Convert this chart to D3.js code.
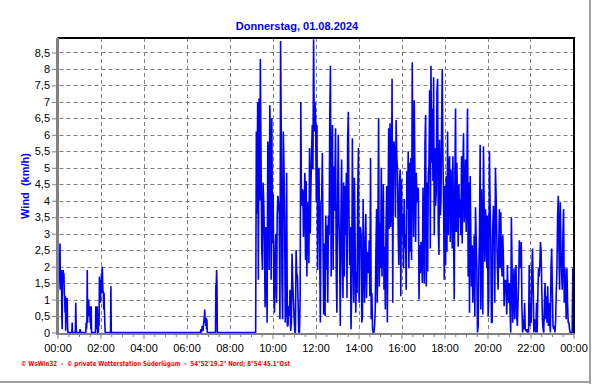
<!DOCTYPE html>
<html><head><meta charset="utf-8">
<script src="https://cdn.jsdelivr.net/npm/d3@7"></script>
<style>body{margin:0;background:#fff}svg{display:block}</style>
</head><body><svg id="c" width="592" height="384"></svg>
<script>
const chartTitle = "Donnerstag, 01.08.2024";
const yTitle = "Wind  (km/h)";
const footerText = "\u00A9 WsWin32  -  \u00A9 private Wetterstation S\u00FCderl\u00FCgum  -  54\u00B052'19.2\" Nord; 8\u00B054'45.1\"Ost";
const xTickLabels = ["00:00","02:00","04:00","06:00","08:00","10:00","12:00","14:00","16:00","18:00","20:00","22:00","00:00"];
const yTickValues = [0,0.5,1,1.5,2,2.5,3,3.5,4,4.5,5,5.5,6,6.5,7,7.5,8,8.5];
const yTickLabels = ["0","0,5","1","1,5","2","2,5","3","3,5","4","4,5","5","5,5","6","6,5","7","7,5","8","8,5"];

// quiet night / morning readings: time and wind speed
const nightTimes = ["00:00","00:01","00:02","00:03","00:04","00:05","00:06","00:07","00:08","00:09","00:10","00:11","00:12","00:13","00:14","00:15","00:16","00:17","00:18","00:19","00:20","00:21","00:22","00:23","00:24","00:25","00:26","00:27","00:28","00:29",
"00:40","00:41","00:42","00:50","00:51","00:52","00:53","01:02","01:03","01:04","01:05",
"01:19","01:20","01:21","01:22","01:23","01:24","01:25","01:26","01:27","01:28","01:29","01:30","01:31","01:32","01:33","01:34","01:35",
"01:46","01:47","01:48","01:49","01:50","01:51","01:52",
"01:54","01:55","01:56","01:57","01:58","01:59","02:00","02:01","02:02","02:03","02:04","02:05","02:06","02:07","02:08","02:09","02:10","02:11","02:12","02:13",
"02:28","02:29","02:30","02:31",
"06:39","06:40","06:42","06:44","06:46","06:48","06:50","06:51","06:52","06:53","06:54","06:55","06:56","06:57","06:58",
"07:21","07:22","07:23","07:24","07:25","07:26","09:12"];
const nightValues = [1.2,1.7,1.2,1.5,2.0,1.6,2.05,2.7,1.3,1.8,1.5,1.9,0.6,0.1,1.8,1.5,1.9,1.6,1.8,1.2,1.05,0.6,1.1,0.05,1.0,0.6,1.0,1.05,0.3,0,
0,0.3,0,0,0.9,0.2,0,0,0.1,0.05,0,
0,0.3,0.1,0.3,1.9,0.3,1.0,0.6,1.0,0.7,0.5,0.8,0.3,0.7,0.1,0.8,0,
0,0.8,0.1,0.8,0.2,0.8,0,
0,0.6,0.2,1.7,1.2,1.4,0.9,1.6,1.3,1.8,1.2,2.0,1.5,1.2,1.25,0.7,1.2,0.7,0.3,0,
0,1.4,0.05,0,
0,0.1,0,0.2,0.05,0.3,0.5,0.7,0.3,0.45,0.2,0.45,0.1,0.4,0,
0,1.45,1.4,1.9,1.5,0,0];

// windy part of the day, evenly spaced readings between start and end time
const spanA = ["09:13","12:53"];
const windA = [0,6.1,3.6,7.0,1.6,7.1,4.0,8.3,5.3,2.6,1.9,4.55,3.95,2.8,0.77,3.2,2.3,0.3,5.8,5.4,1.9,6.9,5.5,1.6,6.5,2.7,4.2,1.1,0.6,2.5,3.0,0.9,3.6,4.15,3.9,3.6,0.4,8.85,6.0,1.6,0.4,6.1,5.1,3.4,0.3,0.9,4.85,0.2,0.2,0.8,0.5,1.3,0.05,0.3,2.4,1.5,1.0,0.5,0,0,2.5,1.8,1.7,0.9,0,0,1.0,7.0,3.85,4.35,4.3,2.9,3.75,4.85,2.2,4.6,1.7,3.95,3.3,2.1,5.6,3.0,4.4,5.45,6.3,4.95,8.9,6.1,7.0,6.5,3.95,6.3,1.9,4.8,5.0,2.6,0.3,3.95,4.05,5.45,2.5,0.55,2.7,0.5,3.55,1.9,3.25,0.9,3.55,2.95,6.5,8.1,1.7,5.15,6.3,1.9,5.05,3.7];
const spanB = ["12:56","16:45"];
const windB = [6.2,1.8,0.6,3.85,6.0,3.5,2.55,0.2,3.5,5.25,2.25,1.05,4.55,1.7,4.45,2.95,4.85,1.05,5.9,6.7,3.5,2.05,3.2,0.1,1.4,5.9,2.85,0.9,4.7,3.0,0.6,1.85,1.2,4.25,5.6,0.9,3.15,3.2,2.95,0.3,0.5,4.05,2.05,0.9,2.7,3.6,1.05,2.45,2.2,1.8,2.8,1.1,5.3,0.4,1.2,0.1,0,0,0.2,0.7,2.45,3.75,0.9,3.45,6.5,1.4,3.35,1.95,5.0,1.7,2.95,4.5,1.3,2.6,0.7,3.2,4.45,0.3,3.6,6.2,3.15,6.35,3.2,3.95,7.7,0.9,5.55,5.8,5.3,3.5,6.45,5.35,4.95,3.2,2.05,4.45,4.95,1.1,4.65,2.95,3.6,1.95,4.05,2.55,3.0,1.3,4.9,3.75,5.5,1.95,5.15,2.45,5.3,2.2,8.2,5.15,2.9,7.05,4.65,2.75,4.85,3.95,4.4];
const spanC = ["16:47","20:37"];
const windC = [4.35,1.0,2.65,1.8,2.75,2.55,1.5,4.4,2.95,1.5,5.75,6.6,1.4,4.55,1.85,4.8,5.1,7.35,2.55,8.1,5.15,6.8,4.6,7.75,2.95,5.6,3.85,4.25,7.3,7.7,3.15,2.35,5.85,3.55,3.95,6.3,8.0,5.35,3.85,1.6,4.45,2.05,4.75,2.45,6.1,2.95,5.0,5.35,2.75,4.95,4.25,2.55,5.35,3.0,1.0,4.75,6.8,3.05,5.15,3.8,2.6,4.5,3.5,4.05,2.95,5.35,2.7,5.15,6.05,3.35,3.8,5.25,3.05,4.9,6.8,1.7,4.55,0.6,4.75,2.95,1.4,2.65,0.9,1.95,2.95,0.5,3.8,2.85,1.95,0,0.2,1.95,2.95,5.7,0.7,4.35,2.45,0.55,5.65,3.85,2.15,3.75,3.35,1.95,3.55,0.5,1.1,5.5,3.75,2.75,0.3,0.3,3.25,3.85,3.35,0.9,5.0,4.15,2.95,1.95,1.3,2.65,3.75,1.95,3.65];
const spanD = ["20:39","24:00"];
const windD = [2.15,1.7,2.95,2.15,0.8,1.5,1.6,1.3,0.55,2.05,1.1,0.9,1.5,0.7,0,3.5,2.05,0.3,1.1,1.95,0.4,1.3,2.05,0.5,0.2,0.9,1.5,2.8,2.4,1.95,2.75,0.7,0,0.4,0.1,0.9,0.1,0.05,0.1,0,0.1,0,2.05,0.2,0.9,0.3,1.95,2.55,1.4,0,0.4,0.2,0,0.9,0,1.1,1.95,1.7,2.05,2.75,2.45,1.3,0.4,0.1,0,0.9,1.5,0.4,1.1,0.3,1.4,0.2,0.9,0.3,0,1.95,2.55,1.3,0.2,0.1,0.2,0,0.4,1.3,1.95,3.55,4.15,2.55,1.3,3.95,2.55,1.85,1.3,2.95,3.75,0.9,1.95,1.3,0.4,1.95,0.9,0.3,0.3,0.1,0,0,0,0,1.95,1.3];

const toMin = s => { const [h,m] = s.split(":").map(Number); return h*60+m; };
function spread(span, vals){
  const a = toMin(span[0]), b = toMin(span[1]);
  return vals.map((v,i)=>({t: a + (b-a)*i/(vals.length-1), v}));
}
const data = nightTimes.map((s,i)=>({t:toMin(s), v:nightValues[i]}))
  .concat(spread(spanA,windA), spread(spanB,windB), spread(spanC,windC), spread(spanD,windD));

const svg = d3.select("#c");
const L = 57.5, R = 573.5, T = 38, B = 332.5;
const x = d3.scaleLinear().domain([0,1440]).range([L,R]);
const y = d3.scaleLinear().domain([0,8.94]).range([B,T]);
const crisp = v => Math.round(v)+0.5;

// outer frame shadow
svg.append("line").attr("x1",590).attr("x2",590).attr("y1",0).attr("y2",384).attr("stroke","#a0a0a0").attr("stroke-width",2);
svg.append("line").attr("x1",0).attr("x2",591).attr("y1",382).attr("y2",382).attr("stroke","#a0a0a0").attr("stroke-width",2);

// grid
const grid = svg.append("g").attr("stroke","#808080").attr("stroke-width",1).attr("stroke-dasharray","4,3");
yTickValues.slice(1).forEach(v=>{
  grid.append("line").attr("x1",L+2).attr("x2",R).attr("y1",crisp(y(v))).attr("y2",crisp(y(v)));
});
const majorTicks = xTickLabels.map((d,i)=>i*120);
majorTicks.slice(1,-1).forEach(t=>{
  grid.append("line").attr("x1",crisp(x(t))).attr("x2",crisp(x(t))).attr("y1",T).attr("y2",B);
});

// data line
svg.append("clipPath").attr("id","pc").append("rect").attr("x",L).attr("y",T).attr("width",R-L).attr("height",B-T+2);
svg.append("path").datum(data)
  .attr("clip-path","url(#pc)")
  .attr("fill","none").attr("stroke","#0000ff").attr("stroke-width",1.6).attr("stroke-linejoin","bevel")
  .attr("d", d3.line().x(d=>x(d.t)).y(d=>y(d.v)));

// border top/right
svg.append("line").attr("x1",L).attr("x2",R+1.5).attr("y1",T).attr("y2",T).attr("stroke","#000").attr("stroke-width",2);
svg.append("line").attr("x1",R+0.5).attr("x2",R+0.5).attr("y1",T-1).attr("y2",B+2).attr("stroke","#000").attr("stroke-width",2);

// x axis
const xAxis = d3.axisBottom(x)
  .tickValues(majorTicks)
  .tickFormat((d,i)=>xTickLabels[i])
  .tickSize(5).tickSizeOuter(0);
const gx = svg.append("g").attr("transform",`translate(0,${B+1.5})`).call(xAxis);
gx.select(".domain").remove();
gx.selectAll(".tick line").attr("stroke","#808080");
gx.selectAll(".tick text").attr("font-family","'Liberation Sans',Arial,sans-serif").attr("font-size",11).attr("fill","#000").attr("dy","0.95em");
const minorTicks = d3.range(0,1441,30).filter(t=>t%120!==0);
const gm = svg.append("g").attr("transform",`translate(0,${B+1.5})`)
  .call(d3.axisBottom(x).tickValues(minorTicks).tickFormat("").tickSize(3).tickSizeOuter(0));
gm.select(".domain").remove();
gm.selectAll(".tick line").attr("stroke","#808080");
svg.append("line").attr("x1",L-1.5).attr("x2",R+1.5).attr("y1",B+1.5).attr("y2",B+1.5).attr("stroke","#808080").attr("stroke-width",2);

// y axis
const yAxis = d3.axisLeft(y).tickValues(yTickValues).tickFormat((d,i)=>yTickLabels[i]).tickSize(4).tickSizeOuter(0);
const gy = svg.append("g").attr("transform",`translate(${L-1.5},0)`).call(yAxis);
gy.select(".domain").remove();
gy.selectAll(".tick line").attr("stroke","#808080");
gy.selectAll(".tick text").attr("font-family","'Liberation Sans',Arial,sans-serif").attr("font-size",11).attr("fill","#000").attr("x",-6);
svg.append("line").attr("x1",L).attr("x2",L).attr("y1",T).attr("y2",B+2.5).attr("stroke","#808080").attr("stroke-width",3);

// titles
svg.append("text").attr("x",297).attr("y",30).attr("text-anchor","middle")
  .attr("font-family","'Liberation Sans',Arial,sans-serif").attr("font-size",11).attr("font-weight","bold").attr("fill","#0000ff")
  .text(chartTitle);
svg.append("text").attr("transform","translate(28.5,186) rotate(-90)").attr("text-anchor","middle")
  .attr("font-family","'Liberation Sans',Arial,sans-serif").attr("font-size",11).attr("font-weight","bold").attr("fill","#0000ff")
  .style("white-space","pre")
  .text(yTitle);
svg.append("text").attr("x",21).attr("y",366)
  .attr("font-family","'DejaVu Sans',Verdana,sans-serif").attr("font-size",7).attr("font-weight","bold").attr("fill","#ff0000")
  .attr("textLength",269).attr("lengthAdjust","spacingAndGlyphs").style("white-space","pre")
  .text(footerText);
</script></body></html>
